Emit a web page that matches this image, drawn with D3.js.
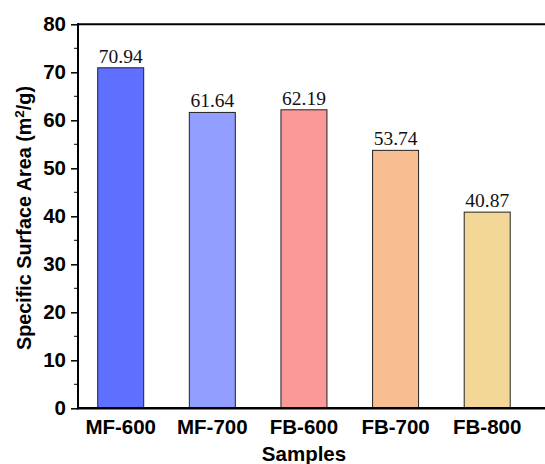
<!DOCTYPE html>
<html><head><meta charset="utf-8">
<script src="https://cdn.jsdelivr.net/npm/d3@7"></script>
<style>body{margin:0;background:#fff;} svg{display:block;}</style>
</head><body>
<svg id="c" width="545" height="464"></svg>
<script>
const categories = ["MF-600","MF-700","FB-600","FB-700","FB-800"];
const values = [70.94, 61.64, 62.19, 53.74, 40.87];
const barColors = ["#5f6fff","#919dff","#fb9898","#f7bf91","#f2d797"];
const yTicks = [0,10,20,30,40,50,60,70,80];
const yTitleParts = ["Specific Surface Area (m", "2", "/g)"];
const xTitle = "Samples";

(function(){
const svg = d3.select("#c");
const pL = 78, pR = 600, pT = 24.3, pB = 408.3;
const y = d3.scaleLinear().domain([0,80]).range([pB, pT]);
const x = d3.scaleLinear().domain([0,4]).range([120.7, 487.2]);
const bw = 46;
const sans = "'Liberation Sans', Arial, sans-serif";
const serif = "'Liberation Serif', 'Times New Roman', serif";

// bars
svg.append("g").selectAll("rect").data(values).join("rect")
  .attr("x",(d,i)=>x(i)-bw/2).attr("y",d=>y(d))
  .attr("width",bw).attr("height",d=>y(0)-y(d))
  .attr("fill",(d,i)=>barColors[i]).attr("stroke","#222").attr("stroke-width",1);

// value labels
svg.append("g").selectAll("text").data(values).join("text")
  .attr("x",(d,i)=>x(i)).attr("y",d=>y(d)-5)
  .attr("text-anchor","middle").attr("font-family",serif).attr("font-size",19.5)
  .attr("fill","#111").text(d=>d.toFixed(2));

// y axis
const yAxis = d3.axisLeft(y).tickValues(yTicks).tickSize(7).tickPadding(5).tickFormat(d3.format("d"));
const gy = svg.append("g").attr("transform",`translate(${pL},0)`).call(yAxis);
gy.select(".domain").remove();
gy.selectAll(".tick line").attr("stroke","#000").attr("stroke-width",1.5);
gy.selectAll(".tick text").attr("font-family",sans).attr("font-weight","bold").attr("font-size",20.5).attr("fill","#000");
// minor ticks
const minor = d3.range(5,80,10);
svg.append("g").selectAll("line").data(minor).join("line")
  .attr("x1",pL-4).attr("x2",pL).attr("y1",d=>y(d)).attr("y2",d=>y(d))
  .attr("stroke","#000").attr("stroke-width",1);

// frame
svg.append("line").attr("x1",pL).attr("x2",pL).attr("y1",pT-1).attr("y2",pB+1).attr("stroke","#000").attr("stroke-width",2);
svg.append("line").attr("x1",pL-1).attr("x2",pR).attr("y1",pB).attr("y2",pB).attr("stroke","#000").attr("stroke-width",2.5);
svg.append("line").attr("x1",pL-1).attr("x2",pR).attr("y1",pT).attr("y2",pT).attr("stroke","#000").attr("stroke-width",2);

// x tick labels
svg.append("g").selectAll("text").data(categories).join("text")
  .attr("x",(d,i)=>x(i)).attr("y",434)
  .attr("text-anchor","middle").attr("font-family",sans).attr("font-weight","bold").attr("font-size",20.5)
  .attr("fill","#000").text(d=>d);

// titles
svg.append("text").attr("x",304).attr("y",461).attr("text-anchor","middle")
  .attr("font-family",sans).attr("font-weight","bold").attr("font-size",20.5).text(xTitle);
const yt = svg.append("text").attr("transform",`translate(31,218) rotate(-90)`).attr("text-anchor","middle")
  .attr("font-family",sans).attr("font-weight","bold").attr("font-size",19.8);
yt.append("tspan").text(yTitleParts[0]);
yt.append("tspan").attr("dy",-7).attr("font-size",13.5).text(yTitleParts[1]);
yt.append("tspan").attr("dy",7).text(yTitleParts[2]);
})();
</script>
</body></html>
